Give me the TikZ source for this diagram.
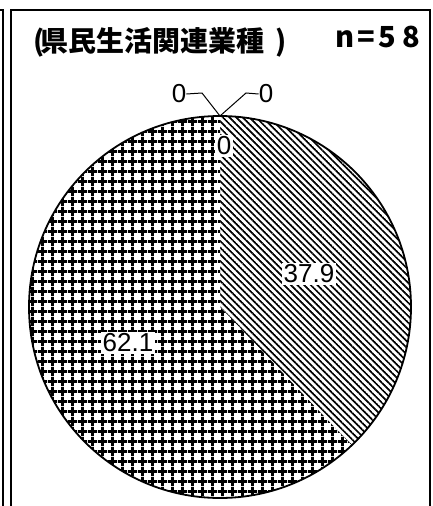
\documentclass[tikz,border=0pt]{standalone}
\usepackage{fontspec}
\setmainfont{Liberation Sans}
\newfontfamily\jp{Noto Sans CJK JP}
\usetikzlibrary{patterns.meta}
\tikzdeclarepattern{
  name=gridpat,
  tile size={(9.5pt,9.5pt)},
  bounding box={(0pt,0pt) and (9.5pt,9.5pt)},
  code={\draw[line width=2.9pt] (0pt,4.75pt) -- (9.5pt,4.75pt) (4.75pt,0pt) -- (4.75pt,9.5pt);}
}
\tikzdeclarepattern{
  name=diagpat,
  tile size={(4.7pt,4.7pt)},
  bounding box={(0pt,-1pt) and (4.7pt,1pt)},
  tile transformation={rotate=-45},
  code={\draw[line width=1.7pt] (0pt,0pt) -- (4.7pt,0pt);}
}
\tikzset{
  frameline/.style={line width=2pt},
  lbl/.style={fill=white, inner sep=1.5pt, font=\fontsize{26}{26}\selectfont},
  leader/.style={line width=1pt},
}
\begin{document}
\begin{tikzpicture}[x=1pt,y=-1pt]
\useasboundingbox (0,0) rectangle (433,506);
% panel frames
\draw[frameline] (0,9.5) -- (2.5,9.5) -- (2.5,512);
\draw[frameline] (11,512) -- (11,9.5) -- (430,9.5) -- (430,512);
% title
\node[anchor=west, inner sep=0pt, font=\jp\bfseries\fontsize{28}{28}\selectfont] (title) at (33,42) {(\kern-4pt県民生活関連業種\hspace{11pt})};
\node[anchor=west, inner sep=0pt, font=\jp\bfseries\fontsize{29}{29}\selectfont] (n) at (335,37) {n\kern3pt=\kern4pt5\kern6pt8};
% pie
\coordinate (c) at (220,307);
\coordinate (top) at (220,116);
\fill[white] (c) -- (top) arc[start angle=90,end angle=-46.4,radius=191pt] -- cycle;
\fill[pattern=diagpat] (c) -- (top) arc[start angle=90,end angle=-46.4,radius=191pt] -- cycle;
\fill[white] (c) -- (top) arc[start angle=90,end angle=313.6,radius=191pt] -- cycle;
\fill[pattern=gridpat] (c) -- (top) arc[start angle=90,end angle=313.6,radius=191pt] -- cycle;
\draw[line width=1.8pt] (c) circle[radius=191pt];
% labels
\node[lbl] (l0) at (224,146) {0};
\node[lbl] (l379) at (309,274) {37.9};
\node[lbl] (l621) at (128,343) {62.1};
\node[font=\fontsize{26}{26}\selectfont, inner sep=0pt] (za) at (179,94) {0};
\node[font=\fontsize{26}{26}\selectfont, inner sep=0pt] (zb) at (266,94) {0};
\draw[leader] (top) -- (202,93) -- (za.east);
\draw[leader] (top) -- (246,93) -- (zb.west);
\end{tikzpicture}
\end{document}
